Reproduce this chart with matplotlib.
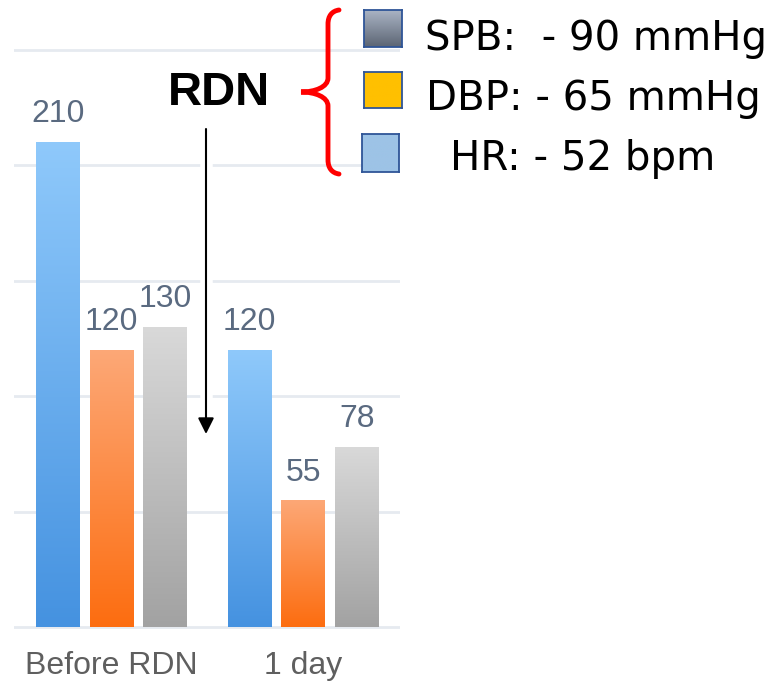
import numpy as np
import matplotlib
matplotlib.use("Agg")
import matplotlib.pyplot as plt
from matplotlib.path import Path
from matplotlib.patches import PathPatch
from matplotlib.colors import LinearSegmentedColormap

# blood pressure / heart rate before and after renal denervation
periods = ["Before RDN", "1 day"]
sbp = [210, 120]
dbp = [120, 55]
hr = [130, 78]
grid_values = [0, 50, 100, 150, 200, 250]

W, H = 778, 692
fig = plt.figure(figsize=(W / 100, H / 100), dpi=100)
fig.patch.set_facecolor("white")


def px(x, y):
    """pixel position (from top-left) -> figure fraction"""
    return x / W, 1 - y / H


def gradient_fill(ax, bar, top, bottom):
    x, y = bar.get_x(), bar.get_y()
    w, h = bar.get_width(), bar.get_height()
    cmap = LinearSegmentedColormap.from_list("g", [bottom, top])
    grad = np.linspace(0, 1, 256).reshape(-1, 1)
    im = ax.imshow(grad, cmap=cmap, extent=(x, x + w, y, y + h), origin="lower",
                   aspect="auto", interpolation="bicubic", zorder=3)
    im.set_clip_path(bar)
    bar.set_facecolor("none")


# axes laid out so that y=0 sits on the baseline
ppu = 2.31
base = 627
ymin, ymax = -2, 252
ax_bottom = base + (-ymin) * ppu
ax_top = base - ymax * ppu
ax = fig.add_axes([14 / W, 1 - ax_bottom / H, 386 / W, (ax_bottom - ax_top) / H])

x = np.arange(len(periods))
step, width = 0.28, 0.229
series = [
    (sbp, "#8fc9fb", "#4592e0"),
    (dbp, "#fca877", "#fd6d10"),
    (hr, "#d9d9d9", "#a2a2a2"),
]
for i, (vals, top, bottom) in enumerate(series):
    bars = ax.bar(x + (i - 1) * step, vals, width, zorder=3)
    for b, v in zip(bars, vals):
        gradient_fill(ax, b, top, bottom)
        ax.annotate(f"{v}", xy=(b.get_x() + b.get_width() / 2, v), xytext=(0, 14),
                    textcoords="offset points", ha="center", va="baseline",
                    fontsize=23, color="#5a6a80", family="Liberation Sans",
                    annotation_clip=False)

ax.set_xlim(-0.508, 1.503)
ax.set_ylim(ymin, ymax)
for g in grid_values:
    ax.axhline(g, color="#e6eaf0", lw=2, zorder=1)
ax.set_yticks([])
ax.set_xticks(x)
ax.set_xticklabels(periods, fontsize=23, color="#5f5f5f", family="Liberation Sans")
ax.tick_params(axis="x", length=0, pad=14)
for s in ax.spines.values():
    s.set_visible(False)

# overlay for the annotations drawn on top of the chart
over = fig.add_axes([0, 0, 1, 1], facecolor="none", zorder=5)
over.set_axis_off()
over.set_xlim(0, 1)
over.set_ylim(0, 1)

# RDN marker with down arrow
over.text(*px(219, 105), "RDN", fontsize=34, fontweight="bold", ha="center",
          va="baseline", family="Liberation Sans", color="black")
over.plot([206 / W, 206 / W], [1 - 129 / H, 1 - 425 / H], color="white", lw=9,
          solid_capstyle="butt")
over.annotate("", xy=px(206, 434), xytext=px(206, 129),
              arrowprops=dict(arrowstyle="-|>", color="black", lw=1.5,
                              mutation_scale=24, shrinkA=0, shrinkB=0))

# red brace grouping the changes
brace_pts = [(339, 10), (332, 11), (328, 16), (328, 24), (328, 78),
             (328, 87), (315, 92), (301, 92),
             (315, 92), (328, 97), (328, 106), (328, 160),
             (328, 168), (332, 173), (339, 174)]
codes = [Path.MOVETO, Path.CURVE4, Path.CURVE4, Path.CURVE4, Path.LINETO,
         Path.CURVE4, Path.CURVE4, Path.CURVE4,
         Path.CURVE4, Path.CURVE4, Path.CURVE4, Path.LINETO,
         Path.CURVE4, Path.CURVE4, Path.CURVE4]
brace = Path([px(*p) for p in brace_pts], codes)
over.add_patch(PathPatch(brace, fill=False, edgecolor="#ff0000", lw=3.5,
                         capstyle="round"))

# change summary
changes = [
    (f"SPB:  - {sbp[0] - sbp[1]} mmHg", (364, 10, 402, 47), 425, 50, ("#aab4c4", "#5c6574")),
    (f"DBP: - {dbp[0] - dbp[1]} mmHg", (364, 72, 402, 108), 426, 110, ("#ffc000", "#ffc000")),
    (f"HR: - {hr[0] - hr[1]} bpm", (362, 134, 399, 172), 450, 170, ("#9dc3e6", "#9dc3e6")),
]
for label, (x0, y0, x1, y1), tx, ty, (ctop, cbot) in changes:
    sq = fig.add_axes([x0 / W, 1 - y1 / H, (x1 - x0) / W, (y1 - y0) / H], zorder=6)
    cm = LinearSegmentedColormap.from_list("s", [cbot, ctop])
    sq.imshow(np.linspace(0, 1, 64).reshape(-1, 1), cmap=cm, origin="lower", aspect="auto")
    sq.set_xticks([])
    sq.set_yticks([])
    for s in sq.spines.values():
        s.set_color("#2f5597")
        s.set_linewidth(1.3)
    over.text(*px(tx, ty), label, fontsize=29, family="DejaVu Sans", va="baseline",
              color="black")

fig.savefig("out.png", dpi=100, facecolor="white")
